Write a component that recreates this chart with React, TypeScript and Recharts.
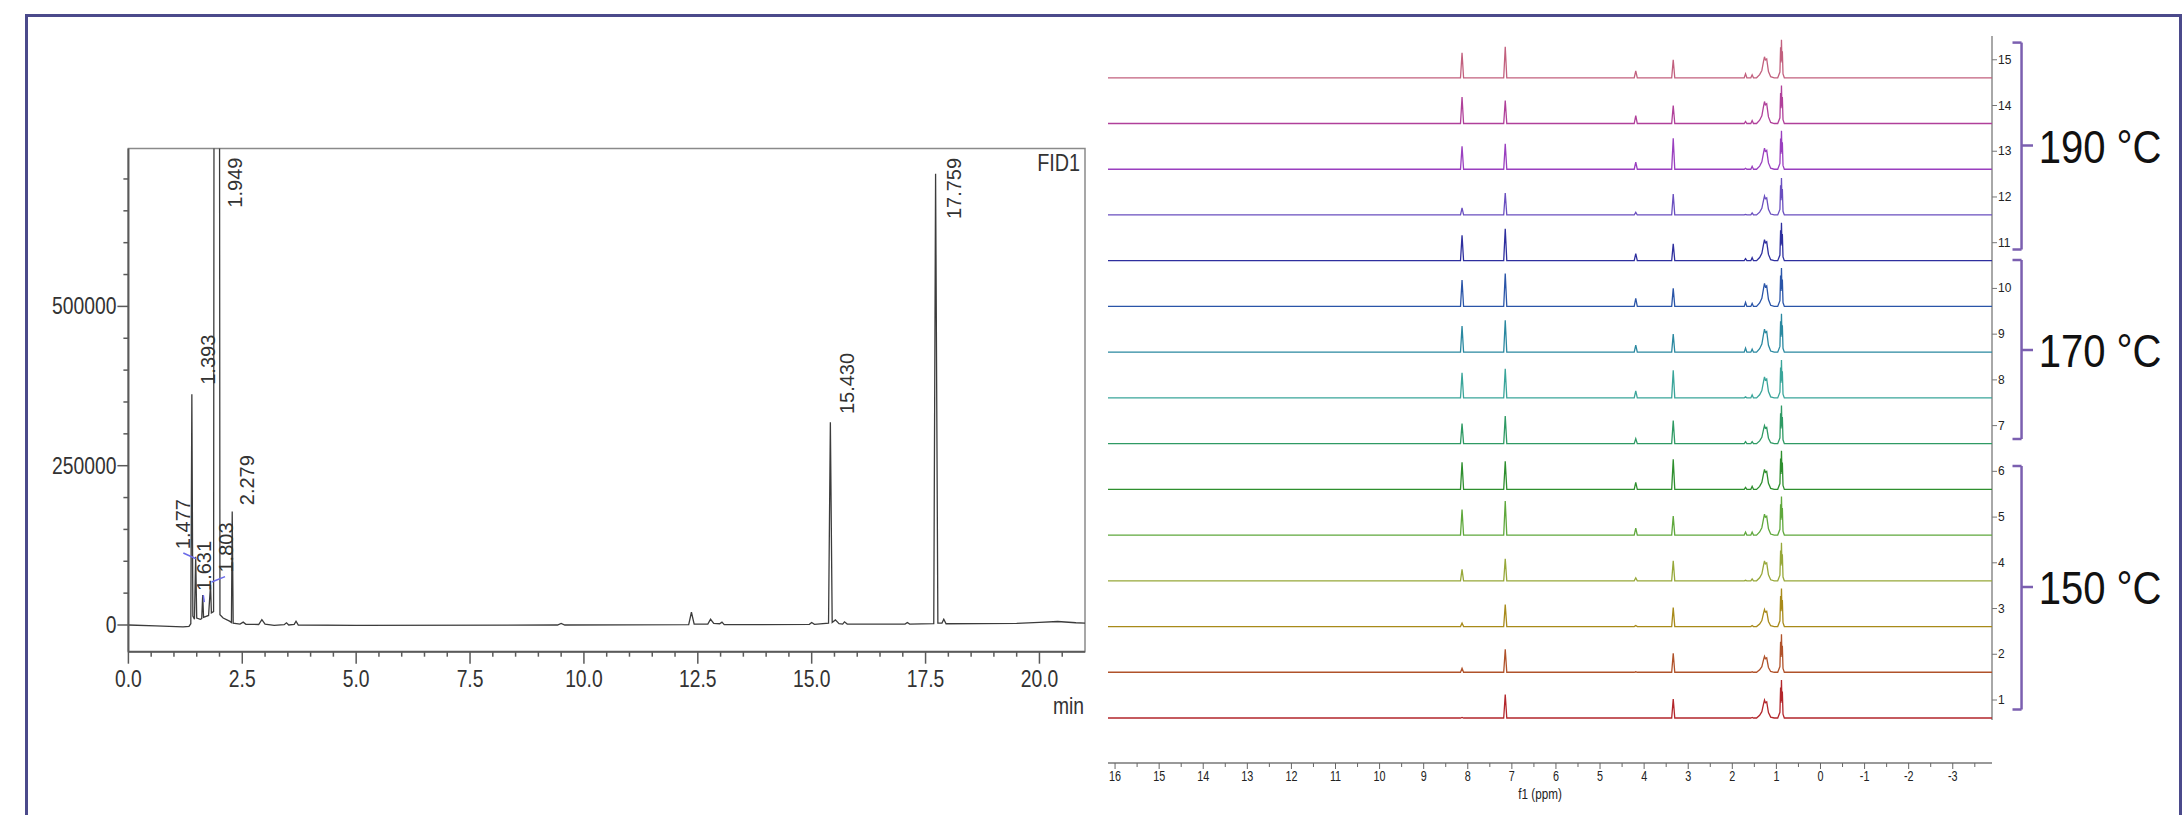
import React from 'react';
import { LineChart, Line, XAxis, YAxis, ReferenceArea, ReferenceDot, ReferenceLine } from 'recharts';

const FONT = '"Liberation Sans", Arial, sans-serif';
const AXIS = '#5a5a5a';
const TEXT = '#333';

// ---- GC trace (FID1), time in min ----
const gcTime = [
	0, 0.6, 1.2, 1.33, 1.37, 1.393, 1.415, 1.45, 1.477, 1.5, 1.58, 1.61, 1.631, 1.65, 1.76, 1.803, 1.822,
	1.87, 1.94, 2.01, 2.08, 2.22, 2.262, 2.279, 2.3, 2.45, 2.52, 2.58, 2.86, 2.93, 3.0, 3.2, 3.42, 3.47, 3.52,
	3.64, 3.68, 3.73, 5.0, 9.42, 9.5, 9.58, 12.3, 12.36, 12.42, 12.72, 12.78, 12.85, 12.98, 13.03, 13.08,
	14.95, 15.0, 15.06, 15.37, 15.41, 15.45, 15.52, 15.6, 15.68, 15.72, 15.78, 17.05, 17.1, 17.15, 17.68,
	17.72, 17.77, 17.86, 17.9, 17.95, 19.5, 20.0, 20.4, 20.8, 21.0,
];
const gcSignal = [
	0, -1500, -3000, -2000, 2000, 362000, 14000, 9000, 107000, 11000, 9000, 10000, 47000, 12000, 15000, 63000, 19000,
	21000, 6000000, 16000, 11000, 6000, 4000, 178000, 3000, 1500, 4500, 1000, 800, 8500, 1500, -500, 500, 3500, 0,
	1000, 6000, 0, -500, 0, 2500, 0, 500, 20000, 1500, 1500, 9000, 2500, 2000, 4500, 500,
	1000, 4000, 1000, 3000, 318000, 4000, 8000, 2000, 1500, 5000, 1500, 1500, 4000, 1500, 2000,
	708000, 3000, 3000, 9000, 2000, 2500, 4000, 5500, 3500, 3000,
];
const gcTicksX = [
	0, 0.5, 1, 1.5, 2, 2.5, 3, 3.5, 4, 4.5, 5, 5.5, 6, 6.5, 7, 7.5, 8, 8.5, 9, 9.5, 10, 10.5, 11, 11.5, 12,
	12.5, 13, 13.5, 14, 14.5, 15, 15.5, 16, 16.5, 17, 17.5, 18, 18.5, 19, 19.5, 20, 20.5,
];
const gcTicksY = [0, 50000, 100000, 150000, 200000, 250000, 300000, 350000, 400000, 450000, 500000, 550000, 600000, 650000, 700000];
const gcPeakNames = ['1.393', '1.477', '1.631', '1.803', '1.949', '2.279', '15.430', '17.759'];
const gcPeakLabelAt = [
	[1.901, 377000], [1.352, 119000], [1.807, 53400], [2.296, 82400], [2.487, 655000], [2.757, 188000],
	[15.93, 331000], [18.28, 637000],
];
const gcLeaders = [
	[[1.205, 113000], [1.484, 104000]],
	[[1.644, 47000], [1.666, 36000]],
	[[1.829, 67500], [2.121, 76000]],
];

// ---- 1H NMR stack, f1 in ppm, spectra 1..15 ----
const spectra = ['1', '2', '3', '4', '5', '6', '7', '8', '9', '10', '11', '12', '13', '14', '15'];
const spectrumColors = [
	'#b3262b', '#b0522a', '#a88a1a', '#97a83a', '#5fa83c', '#2e8f2e', '#2f9a64', '#3aa59a',
	'#2a88a0', '#2a55a8', '#2e2f9e', '#6a4fbf', '#9a3fbf', '#b0409a', '#c2607e',
];
const h8_13 = [0.5, 4, 3.5, 11.5, 25.5, 27, 20, 25, 26, 26.5, 25.5, 7, 23, 26.5, 25];
const h7_15 = [23.5, 23, 22, 22, 34, 28, 27.5, 29, 32, 33, 32, 22, 25.5, 23, 31];
const h4_19 = [0, 0.5, 1, 3, 7, 7, 5, 7, 7, 8, 7, 2.6, 7, 8, 7];
const h3_34 = [19, 19, 19, 20, 19, 30, 23, 27.5, 18, 18, 17, 21, 31, 18, 18];
const h1_70 = [0, 0, 0, 0.5, 3, 2, 2, 1, 4, 4, 2, 0.5, 1, 2, 4];
const h1_55 = [0.5, 0.5, 1, 2, 3, 3, 2, 3, 3, 3, 3, 2, 3, 3, 3];
const h1_25 = [18, 16, 17, 20, 21, 20, 18, 21, 23, 23, 21, 19, 21, 22, 21];
const h0_88 = [38, 38, 38, 38, 38.5, 38.5, 38, 38, 38.5, 38.5, 38, 37, 38.5, 38, 38];
const ppmTicks = [
	16, 15.5, 15, 14.5, 14, 13.5, 13, 12.5, 12, 11.5, 11, 10.5, 10, 9.5, 9, 8.5, 8, 7.5, 7, 6.5, 6, 5.5, 5,
	4.5, 4, 3.5, 3, 2.5, 2, 1.5, 1, 0.5, 0, -0.5, -1, -1.5, -2, -2.5, -3, -3.5,
];
const tempGroups = ['190 °C', '170 °C', '150 °C'];

const PPM_MIN = -3.89;
const PPM_MAX = 16.16;
const OFF = 45.73; // vertical offset between stacked spectra

// peak outlines: [ppm shift, fraction of height]
const SPIKE = [[0.035, 0], [0, 1], [-0.035, 0]];
const NARROW = [[0.03, 0], [0, 1], [-0.03, 0]];
const CH2 = [[0.2, 0], [0.13, 0.15], [0.08, 0.35], [0.04, 0.8], [0.02, 1], [0, 0.85], [-0.03, 0.9], [-0.07, 0.3], [-0.12, 0.05], [-0.2, 0]];
const CH3 = [[0.09, 0], [0.04, 0.15], [0.025, 0.8], [0.015, 0.4], [0.005, 1], [-0.005, 0.45], [-0.015, 0.7], [-0.03, 0.1], [-0.06, 0]];

const peaks = [
	{ ppm: 8.13, h: h8_13, shape: SPIKE },
	{ ppm: 7.15, h: h7_15, shape: SPIKE },
	{ ppm: 4.19, h: h4_19, shape: SPIKE },
	{ ppm: 3.34, h: h3_34, shape: SPIKE },
	{ ppm: 1.7, h: h1_70, shape: NARROW },
	{ ppm: 1.55, h: h1_55, shape: NARROW },
	{ ppm: 1.25, h: h1_25, shape: CH2 },
	{ ppm: 0.88, h: h0_88, shape: CH3 },
];

const gcData = gcTime.map((t, k) => ({ t, v: gcSignal[k] }));

const nmrData = spectra.map((_, i) => {
	const base = i * OFF;
	const pts = [{ x: PPM_MAX, y: base }];
	peaks.forEach((p) => {
		p.shape.forEach(([d, f]) => pts.push({ x: p.ppm + d, y: base + p.h[i] * f }));
	});
	pts.push({ x: PPM_MIN, y: base });
	return pts;
});

function GcXTick({ x, y, payload }: any) {
	const major = payload.value % 2.5 === 0;
	return (
		<g>
			<line x1={x} x2={x} y1={y} y2={y + (major ? 12 : 5)} stroke={AXIS} strokeWidth={1.5} />
			{major && (
				<text transform={`translate(${x} ${y + 35}) scale(0.84 1)`} textAnchor="middle" fontSize={23} fill={TEXT} fontFamily={FONT}>
					{payload.value.toFixed(1)}
				</text>
			)}
		</g>
	);
}

function GcYTick({ x, y, payload }: any) {
	const major = payload.value % 250000 === 0;
	return (
		<g>
			<line x1={x - (major ? 11 : 5)} x2={x} y1={y} y2={y} stroke={AXIS} strokeWidth={1.5} />
			{major && (
				<text transform={`translate(${x - 12} ${y + 8}) scale(0.84 1)`} textAnchor="end" fontSize={23} fill={TEXT} fontFamily={FONT}>
					{payload.value}
				</text>
			)}
		</g>
	);
}

function NmrXTick({ x, y, payload }: any) {
	const major = Number.isInteger(payload.value);
	return (
		<g>
			<line x1={x} x2={x} y1={y} y2={y + (major ? 6 : 4)} stroke="#666" strokeWidth={1} />
			{major && (
				<text transform={`translate(${x} ${y + 18}) scale(0.72 1)`} textAnchor="middle" fontSize={15} fill="#222" fontFamily={FONT}>
					{payload.value}
				</text>
			)}
		</g>
	);
}

function NmrYTick({ x, y, index }: any) {
	return (
		<g>
			<line x1={x} x2={x + 5} y1={y} y2={y} stroke="#777" strokeWidth={1} />
			<text x={x + 6} y={y + 4} fontSize={12} fill="#222" fontFamily={FONT}>
				{spectra[index]}
			</text>
		</g>
	);
}

const rotatedLabel = (text: string) => (props: any) => (
	<text
		x={props.cx}
		y={props.cy}
		transform={`rotate(-90 ${props.cx} ${props.cy})`}
		fontSize={20}
		fill={TEXT}
		fontFamily={FONT}
	>
		{text}
	</text>
);

// bracket extents in spectrum-stack units: [top, bottom, middle]
const brackets = [
	[675.4, 468.5, 572.5],
	[458, 279, 368],
	[252, 8.5, 131],
];

export default function App() {
	return (
		<div style={{ position: 'absolute', left: 0, top: 0, width: 2184, height: 815, background: '#fff', overflow: 'hidden', fontFamily: FONT }}>
			<div
				style={{
					position: 'absolute',
					left: 25,
					top: 14,
					width: 2157,
					height: 900,
					boxSizing: 'border-box',
					borderLeft: '3px solid #4b4a8b',
					borderTop: '3px solid #4b4a8b',
					borderRight: '3px solid #4b4a8b',
				}}
			/>

			{/* GC chromatogram */}
			<div style={{ position: 'absolute', left: 0, top: 0 }}>
				<LineChart width={1100} height={720} data={gcData} margin={{ top: 148.5, left: 58.4, right: 15, bottom: 28.3 }}>
					<XAxis
						type="number"
						dataKey="t"
						domain={[0, 21]}
						ticks={gcTicksX}
						interval={0}
						tickSize={0}
						tickMargin={0}
						tickLine={false}
						tick={<GcXTick />}
						axisLine={{ stroke: AXIS, strokeWidth: 2 }}
						height={40}
						allowDataOverflow
					/>
					<YAxis
						type="number"
						domain={[-41900, 747800]}
						ticks={gcTicksY}
						interval={0}
						tickSize={0}
						tickMargin={0}
						tickLine={false}
						tick={<GcYTick />}
						axisLine={{ stroke: AXIS, strokeWidth: 2 }}
						width={70}
						allowDataOverflow
					/>
					<ReferenceArea x1={0} x2={21} y1={-41900} y2={747800} fill="none" stroke="#8a8a8a" strokeWidth={1.5} ifOverflow="visible" />
					<Line type="linear" dataKey="v" stroke="#3c3c3c" strokeWidth={1.3} dot={false} activeDot={false} isAnimationActive={false} />
					{gcLeaders.map((seg, k) => (
						<ReferenceLine
							key={`ld${k}`}
							segment={[{ x: seg[0][0], y: seg[0][1] }, { x: seg[1][0], y: seg[1][1] }]}
							stroke="#6a6ae8"
							strokeWidth={1.5}
							ifOverflow="visible"
						/>
					))}
					{gcPeakNames.map((name, k) => (
						<ReferenceDot key={name} x={gcPeakLabelAt[k][0]} y={gcPeakLabelAt[k][1]} r={0} ifOverflow="visible" shape={rotatedLabel(name)} />
					))}
					<ReferenceDot
						x={21}
						y={747800}
						r={0}
						ifOverflow="visible"
						shape={(p: any) => (
							<text transform={`translate(${p.cx - 5} ${p.cy + 22}) scale(0.86 1)`} textAnchor="end" fontSize={23} fill={TEXT} fontFamily={FONT}>
								FID1
							</text>
						)}
					/>
					<ReferenceDot
						x={21}
						y={-41900}
						r={0}
						ifOverflow="visible"
						shape={(p: any) => (
							<text transform={`translate(${p.cx - 1} ${p.cy + 62}) scale(0.84 1)`} textAnchor="end" fontSize={23} fill={TEXT} fontFamily={FONT}>
								min
							</text>
						)}
					/>
				</LineChart>
			</div>

			{/* stacked 1H NMR spectra */}
			<div style={{ position: 'absolute', left: 1095, top: 0 }}>
				<LineChart width={1089} height={815} margin={{ top: 36, left: 13, right: 152, bottom: 12 }}>
					<XAxis
						type="number"
						dataKey="x"
						domain={[PPM_MIN, PPM_MAX]}
						reversed
						ticks={ppmTicks}
						interval={0}
						tickSize={0}
						tickMargin={0}
						tickLine={false}
						tick={<NmrXTick />}
						axisLine={{ stroke: '#777', strokeWidth: 1.5 }}
						height={40}
						allowDataOverflow
					/>
					<YAxis
						orientation="right"
						type="number"
						domain={[-45, 682]}
						ticks={spectra.map((_, i) => i * OFF + 18)}
						interval={0}
						tickSize={0}
						tickMargin={0}
						tickLine={false}
						axisLine={false}
						tick={<NmrYTick />}
						width={40}
						allowDataOverflow
					/>
					<ReferenceLine segment={[{ x: PPM_MIN, y: -2 }, { x: PPM_MIN, y: 682 }]} stroke="#a8a8a8" strokeWidth={2} ifOverflow="visible" />
					{nmrData.map((pts, i) => (
						<Line
							key={spectra[i]}
							data={pts}
							type="linear"
							dataKey="y"
							stroke={spectrumColors[i]}
							strokeWidth={1.3}
							dot={false}
							activeDot={false}
							isAnimationActive={false}
						/>
					))}
					{brackets.map(([top, bottom, mid], k) => (
						<g key={`br${k}`}>
							<ReferenceLine segment={[{ x: -4.355, y: top }, { x: -4.56, y: top }]} stroke="#7b5fb0" strokeWidth={2.5} ifOverflow="visible" />
							<ReferenceLine segment={[{ x: -4.56, y: top }, { x: -4.56, y: bottom }]} stroke="#7b5fb0" strokeWidth={2.5} ifOverflow="visible" />
							<ReferenceLine segment={[{ x: -4.355, y: bottom }, { x: -4.56, y: bottom }]} stroke="#7b5fb0" strokeWidth={2.5} ifOverflow="visible" />
							<ReferenceLine segment={[{ x: -4.56, y: mid }, { x: -4.82, y: mid }]} stroke="#7b5fb0" strokeWidth={2.5} ifOverflow="visible" />
							<ReferenceDot
								x={-4.95}
								y={mid}
								r={0}
								ifOverflow="visible"
								shape={(p: any) => (
									<text transform={`translate(${p.cx} ${p.cy + 17}) scale(0.87 1)`} fontSize={46} fill="#111" fontFamily={FONT}>
										{tempGroups[k]}
									</text>
								)}
							/>
						</g>
					))}
					<ReferenceDot
						x={6.36}
						y={-45}
						r={0}
						ifOverflow="visible"
						shape={(p: any) => (
							<text transform={`translate(${p.cx} ${p.cy + 36}) scale(0.78 1)`} textAnchor="middle" fontSize={15} fill="#222" fontFamily={FONT}>
								f1 (ppm)
							</text>
						)}
					/>
				</LineChart>
			</div>
		</div>
	);
}
